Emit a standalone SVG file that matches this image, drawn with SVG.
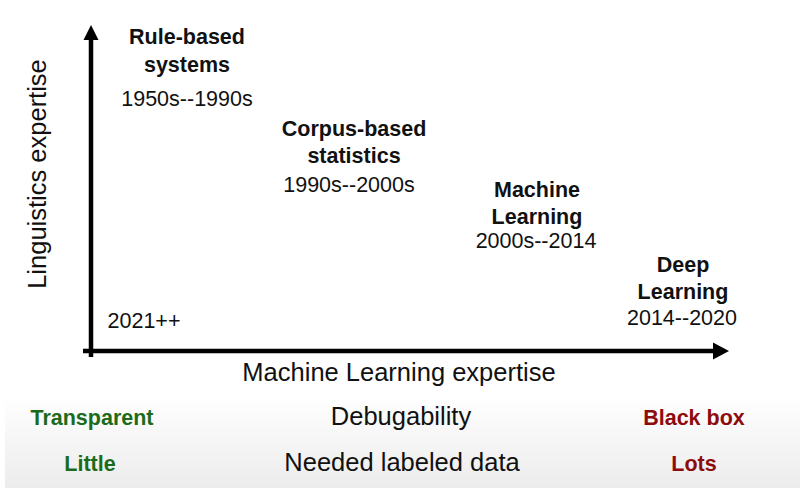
<svg xmlns="http://www.w3.org/2000/svg" width="800" height="488" viewBox="0 0 800 488">
<style>
.b{font-family:"Liberation Sans",Arial,sans-serif;font-weight:bold;font-size:21.5px;fill:#111;text-anchor:middle}
.r{font-family:"Liberation Sans",Arial,sans-serif;font-size:21.5px;fill:#111;text-anchor:middle}
.ax{font-family:"Liberation Sans",Arial,sans-serif;font-size:25.5px;fill:#111;text-anchor:middle}
.g{font-family:"Liberation Sans",Arial,sans-serif;font-weight:bold;font-size:21.5px;fill:#1b6b1b;text-anchor:middle}
.d{font-family:"Liberation Sans",Arial,sans-serif;font-weight:bold;font-size:21.5px;fill:#8e0b0b;text-anchor:middle}
.axis{stroke:#000;stroke-width:4.5;fill:none}
</style>
<defs>
<linearGradient id="bg" x1="0" y1="0" x2="0" y2="1">
<stop offset="0" stop-color="#ffffff"/>
<stop offset="1" stop-color="#ececec"/>
</linearGradient>
</defs>
<rect width="800" height="488" fill="#fff"/>
<rect x="5" y="395" width="795" height="93" fill="url(#bg)"/>
<g id="connectors">
<line class="axis" x1="91" y1="357" x2="91" y2="38"/>
<polygon points="91,25 83.5,40 98.5,40" fill="#000"/>
<line class="axis" x1="83" y1="351" x2="715" y2="351"/>
<polygon points="729,351 713,342.5 713,359.5" fill="#000"/>
</g>
<g id="axis-y-label"><text class="ax" transform="translate(46,174) rotate(-90)">Linguistics expertise</text></g>
<g id="axis-x-label"><text class="ax" x="399" y="381">Machine Learning expertise</text></g>
<g id="rule-based">
<text class="b" x="187" y="44">Rule-based</text>
<text class="b" x="187" y="72">systems</text>
<text class="r" x="187" y="106">1950s--1990s</text>
</g>
<g id="corpus-based">
<text class="b" x="354" y="136">Corpus-based</text>
<text class="b" x="354" y="163">statistics</text>
<text class="r" x="349" y="192">1990s--2000s</text>
</g>
<g id="machine-learning">
<text class="b" x="537" y="197">Machine</text>
<text class="b" x="537" y="224">Learning</text>
<text class="r" x="536" y="248">2000s--2014</text>
</g>
<g id="deep-learning">
<text class="b" x="683" y="272">Deep</text>
<text class="b" x="683" y="299">Learning</text>
<text class="r" x="682" y="325">2014--2020</text>
</g>
<g id="future"><text class="r" x="144" y="328">2021++</text></g>
<g id="debugability">
<text class="g" x="92" y="425">Transparent</text>
<text class="ax" x="401" y="425">Debugability</text>
<text class="d" x="694" y="425">Black box</text>
</g>
<g id="labeled-data">
<text class="g" x="90" y="471">Little</text>
<text class="ax" x="402" y="471">Needed labeled data</text>
<text class="d" x="694" y="471">Lots</text>
</g>
</svg>
